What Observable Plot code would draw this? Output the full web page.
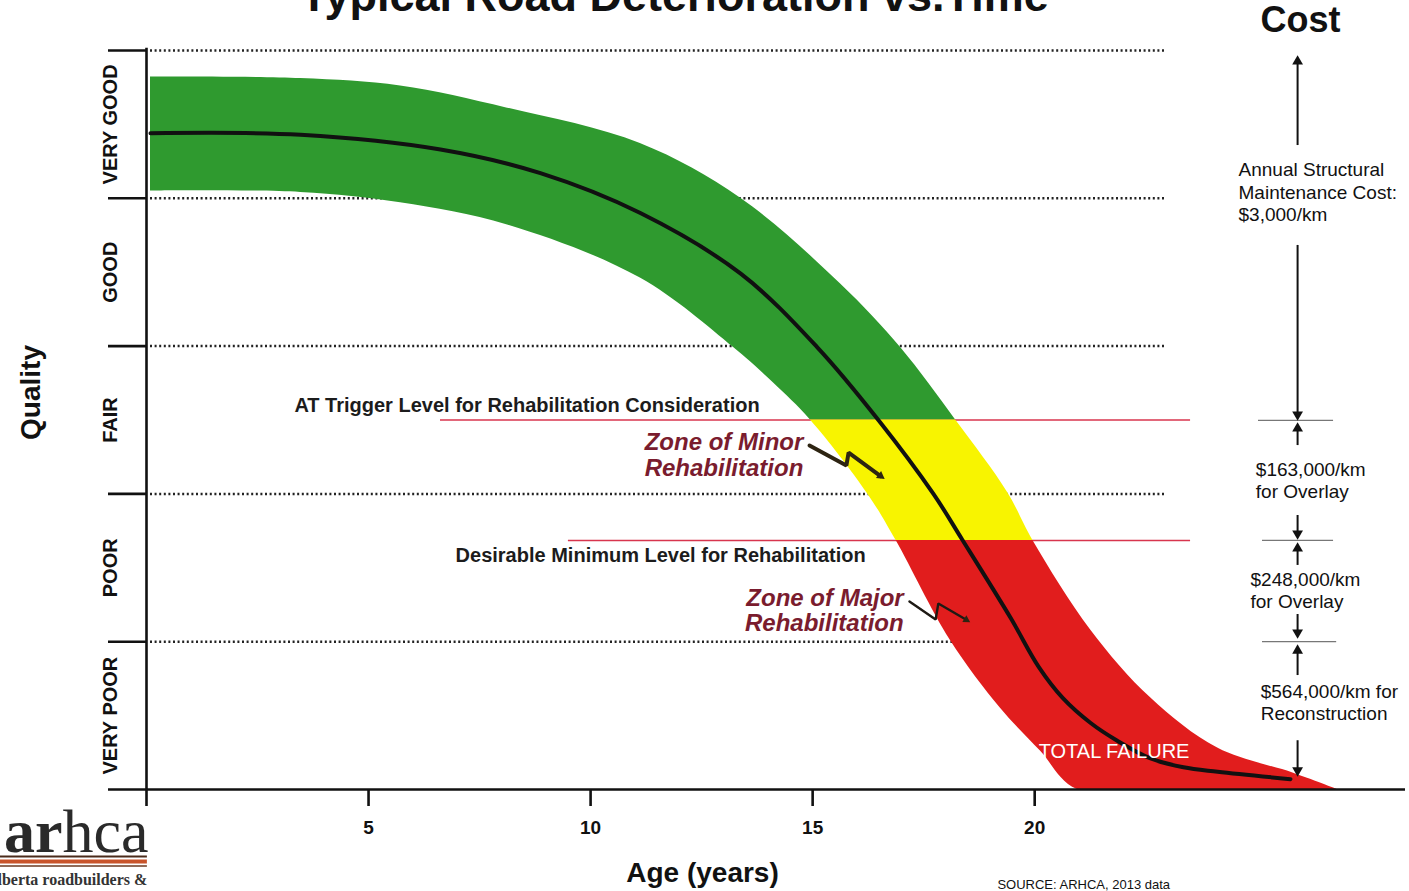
<!DOCTYPE html>
<html>
<head>
<meta charset="utf-8">
<script src="https://cdn.jsdelivr.net/npm/d3@7"></script>
<script src="https://cdn.jsdelivr.net/npm/@observablehq/plot@0.6"></script>
<style>
  html, body { margin: 0; padding: 0; background: #fff; overflow: hidden; }
  #chart svg { display: block; }
</style>
</head>
<body>
<div id="chart"></div>
<script>
// ---------- Data (age in years, quality in category units: 0 = bottom of VERY POOR, 5 = top of VERY GOOD)
const qualityLevels = ["VERY POOR", "POOR", "FAIR", "GOOD", "VERY GOOD"];
const qualityMid = [0.5, 1.5, 2.5, 3.5, 4.5];
const qualityBounds = [0, 1, 2, 3, 4, 5];
const xTicks = [0, 5, 10, 15, 20];

// performance band (upper and lower edges)
const bandUpperAge = [0.09, 3.47, 5.72, 8.13, 11.12, 13.38, 15.63, 16.98, 18.22, 19.39, 19.97, 21.26, 22.61, 24.12, 25.83, 26.82];
const bandUpperQ   = [4.82, 4.81, 4.76, 4.61, 4.37, 4.00, 3.42, 2.99, 2.50, 2.01, 1.68, 1.08, 0.62, 0.28, 0.11, 0.00];
const bandLowerAge = [0.09, 3.47, 5.72, 8.13, 11.12, 13.22, 14.12, 14.95, 16.24, 16.87, 18.10, 19.23, 20.13, 20.96, 23.73, 26.82];
const bandLowerQ   = [4.05, 4.04, 3.97, 3.82, 3.46, 2.99, 2.75, 2.50, 2.00, 1.69, 1.01, 0.55, 0.26, 0.00, 0.00, 0.00];

// typical deterioration curve
const centerAge = [0.09, 3.47, 6.62, 8.87, 11.12, 13.38, 15.11, 16.48, 17.72, 18.37, 19.46, 20.09, 20.63, 21.26, 21.86, 22.61, 23.35, 24.12, 25.76];
const centerQ   = [4.44, 4.43, 4.33, 4.17, 3.90, 3.49, 2.99, 2.50, 2.00, 1.69, 1.16, 0.83, 0.62, 0.45, 0.33, 0.21, 0.15, 0.12, 0.07];

// dotted category lines
const gridLevels = [1, 2, 3, 4, 5];
const gridEnd = [18.2, 22.95, 22.95, 22.95, 22.95];

// rehabilitation levels
const triggerLevel = 2.5;
const desirableLevel = 1.685;
const levelValues = [triggerLevel, desirableLevel];
const levelStart = [6.62, 9.50];
const levelEnd = [23.51, 23.51];
const levelLabels = ["AT Trigger Level for Rehabilitation Consideration", "Desirable Minimum Level for Rehabilitation"];
const levelLabelAge = [3.33, 6.96];
const levelLabelQ = [2.598, 1.583];

// zone labels and zig-zag pointers
const zoneLabels = ["Zone of Minor\nRehabilitation", "Zone of Major\nRehabilitation"];
const zoneLabelAge = [14.79, 17.05];
const zoneLabelQ = [2.264, 1.211];
const minorPointerAge = [14.93, 15.76, 15.81, 16.53];
const minorPointerQ = [2.327, 2.192, 2.280, 2.121];
const majorPointerAge = [17.18, 17.77, 17.83, 18.46];
const majorPointerQ = [1.272, 1.150, 1.258, 1.148];
const pointerHeadRotate = [126, 121];

// cost column
const costLabels = ["Annual Structural\nMaintenance Cost:\n$3,000/km", "$163,000/km\nfor Overlay", "$248,000/km\nfor Overlay", "$564,000/km for\nReconstruction"];
const costLabelAge = [24.59, 24.98, 24.86, 25.09];
const costLabelQ = [4.046, 2.094, 1.350, 0.595];
const costArrowAge = 25.92;
const costShaftFrom = [4.357, 3.681, 2.327, 1.854, 1.516, 1.184, 0.771, 0.330];
const costShaftTo   = [4.920, 2.537, 2.443, 1.732, 1.631, 1.062, 0.940, 0.129];
const costHeadQ     = [4.926, 2.537, 2.443, 1.732, 1.631, 1.062, 0.940, 0.129];
const costHeadRotate = [0, 180, 0, 180, 0, 180, 0, 180];
const costSepQ = [2.497, 1.685, 1.0];
const costSepStart = [25.04, 25.13, 25.13];
const costSepEnd = [26.73, 26.73, 26.80];
const costSepDash = ["none", "4,2", "4,2"];

// ---------- tables built from the arrays
const band = bandUpperAge.map((_, i) => ({x1: bandLowerAge[i], y1: bandLowerQ[i], x2: bandUpperAge[i], y2: bandUpperQ[i]}));
const center = centerAge.map((a, i) => ({age: a, q: centerQ[i]}));
const grid = gridLevels.map((q, i) => ({q, x2: gridEnd[i]}));
const levels = levelValues.map((q, i) => ({q, x1: levelStart[i], x2: levelEnd[i]}));
const levelText = levelLabels.map((t, i) => ({t, x: levelLabelAge[i], y: levelLabelQ[i]}));
const zoneText = zoneLabels.map((t, i) => ({t, x: zoneLabelAge[i], y: zoneLabelQ[i]}));
const minorPointer = minorPointerAge.map((a, i) => ({age: a, q: minorPointerQ[i]}));
const majorPointer = majorPointerAge.map((a, i) => ({age: a, q: majorPointerQ[i]}));
const pointerHeads = [
  {age: minorPointerAge[3], q: minorPointerQ[3], rot: pointerHeadRotate[0], r: 5},
  {age: majorPointerAge[3], q: majorPointerQ[3], rot: pointerHeadRotate[1], r: 4}
];
const costText = costLabels.map((t, i) => ({t, x: costLabelAge[i], y: costLabelQ[i]}));
const costShafts = costShaftFrom.map((f, i) => ({y1: f, y2: costShaftTo[i]}));
const costHeads = costHeadQ.map((q, i) => ({q, rot: costHeadRotate[i]}));
const costSeps = costSepQ.map((q, i) => ({q, x1: costSepStart[i], x2: costSepEnd[i], dash: costSepDash[i]}));

const sans = "Liberation Sans, Arial, Helvetica, sans-serif";
const serif = "Liberation Serif, Times New Roman, serif";

const plot = Plot.plot({
  width: 1409,
  height: 891,
  marginLeft: 146,
  marginRight: 4,
  marginTop: 50,
  marginBottom: 102,
  x: {domain: [0, 28.35]},
  y: {domain: [0, 5]},
  style: {fontFamily: sans, background: "white", color: "#111"},
  marks: [
    // dotted category lines
    Plot.ruleY(grid, {y: "q", x1: 0.09, x2: "x2", stroke: "#222", strokeWidth: 2.5, strokeDasharray: "2,2.6"}),
    // rehabilitation level lines
    Plot.ruleY(levels, {y: "q", x1: "x1", x2: "x2", stroke: "#d8354e", strokeWidth: 1.6}),
    // band in three colours
    Plot.area(band, {x1: "x1", y1: "y1", x2: "x2", y2: "y2", curve: "catmull-rom", fill: "#2f9a2f", className: "band-green"}),
    Plot.area(band, {x1: "x1", y1: "y1", x2: "x2", y2: "y2", curve: "catmull-rom", fill: "#f8f400", className: "band-yellow"}),
    Plot.area(band, {x1: "x1", y1: "y1", x2: "x2", y2: "y2", curve: "catmull-rom", fill: "#e11d1d", className: "band-red"}),
    // deterioration curve
    Plot.line(center, {x: "age", y: "q", curve: "catmull-rom", stroke: "#111", strokeWidth: 4}),
    // axes
    Plot.ruleY([0], {x1: 0, x2: 28.35, stroke: "#111", strokeWidth: 2.6}),
    Plot.ruleX([0], {y1: 0, y2: 5.015, stroke: "#111", strokeWidth: 2.6}),
    Plot.axisX(xTicks, {tickSize: 17, tickPadding: 14, tickFormat: d => d === 0 ? "" : String(d), fontSize: 19, fontWeight: "bold", strokeWidth: 2.6, color: "#111", label: null}),
    Plot.axisY(qualityBounds, {tickSize: 38, tickFormat: () => "", strokeWidth: 2.6, color: "#111", label: null}),
    Plot.text(qualityLevels, {x: -0.81, y: (d, i) => qualityMid[i], rotate: -90, fontSize: 20, fontWeight: "bold", fill: "#111"}),
    Plot.text(["Quality"], {x: -2.61, y: 2.686, rotate: -90, fontSize: 28, fontWeight: "bold", fill: "#111"}),
    Plot.text(["Age (years)"], {x: 12.52, y: -0.568, fontSize: 28, fontWeight: "bold", fill: "#111"}),
    Plot.text(["Typical Road Deterioration vs.Time"], {x: 11.89, y: 5.264, lineAnchor: "bottom", fontSize: 45, fontWeight: "bold", fill: "#111"}),
    // level labels
    Plot.text(levelText, {x: "x", y: "y", text: "t", textAnchor: "start", fontSize: 20, fontWeight: "bold", fill: "#1c1c1c"}),
    // zone labels
    Plot.text(zoneText, {x: "x", y: "y", text: "t", textAnchor: "end", lineHeight: 1.05, fontSize: 24, fontWeight: "bold", fontStyle: "italic", fill: "#7a1c2e"}),
    Plot.line(minorPointer, {x: "age", y: "q", stroke: "#2d2412", strokeWidth: 4, strokeLinejoin: "miter"}),
    Plot.line(majorPointer, {x: "age", y: "q", stroke: "#1e1a14", strokeWidth: 2.4, strokeLinejoin: "miter"}),
    Plot.dot(pointerHeads, {x: "age", y: "q", symbol: "triangle", rotate: "rot", r: "r", fill: "#2d2412", stroke: null}),
    // total failure
    Plot.text(["TOTAL FAILURE"], {x: 20.09, y: 0.257, textAnchor: "start", fontSize: 20, fill: "white"}),
    // cost column
    Plot.text(["Cost"], {x: 25.985, y: 5.203, fontSize: 36, fontWeight: "bold", fill: "#111"}),
    Plot.ruleY(costSeps, {y: "q", x1: "x1", x2: "x2", stroke: "#777", strokeWidth: 1.2, strokeDasharray: "dash"}),
    Plot.ruleX(costShafts, {x: costArrowAge, y1: "y1", y2: "y2", stroke: "#111", strokeWidth: 2}),
    Plot.dot(costHeads, {x: costArrowAge, y: "q", symbol: "triangle", rotate: "rot", r: 4, fill: "#111", stroke: null}),
    Plot.text(costText, {x: "x", y: "y", text: "t", textAnchor: "start", lineHeight: 1.18, fontSize: 19, fill: "#111"}),
    // source
    Plot.text(["SOURCE: ARHCA, 2013 data"], {x: 19.16, y: -0.643, textAnchor: "start", fontSize: 13, fill: "#111"}),
    // logo
    Plot.text(["ar"], {x: -1.89, y: -0.426, lineAnchor: "bottom", textAnchor: "end", fontFamily: serif, fontSize: 62, fontWeight: "bold", fill: "#2a2a2a"}),
    Plot.text(["hca"], {x: -1.89, y: -0.426, lineAnchor: "bottom", textAnchor: "start", fontFamily: serif, fontSize: 62, fill: "#2a2a2a"}),
    Plot.ruleY([-0.453], {x1: -3.29, x2: 0.02, stroke: "#4a2a1a", strokeWidth: 2}),
    Plot.ruleY([-0.487], {x1: -3.29, x2: 0.02, stroke: "#c9542b", strokeWidth: 4}),
    Plot.ruleY([-0.518], {x1: -3.29, x2: 0.02, stroke: "#6b3a22", strokeWidth: 1.5}),
    Plot.text(["alberta roadbuilders &"], {x: 0.02, y: -0.612, textAnchor: "end", fontFamily: serif, fontSize: 16, fontWeight: "bold", fill: "#333"}),
    Plot.text(["heavy construction association"], {x: 0.02, y: -0.775, lineAnchor: "bottom", textAnchor: "end", fontFamily: serif, fontSize: 16, fontWeight: "bold", fill: "#333"})
  ]
});

// colour zones of the band, clipped at the rehabilitation levels using the plot's own y scale
const ys = plot.scale("y");
const yTrig = ys.apply(triggerLevel), yDes = ys.apply(desirableLevel), yZero = ys.apply(0), yTop = ys.apply(5) - 60;
const svg = d3.select(plot);
const defs = svg.insert("defs", ":first-child");
function addClip(id, top, bottom) {
  defs.append("clipPath").attr("id", id).append("rect")
    .attr("x", 0).attr("y", top).attr("width", 1409).attr("height", bottom - top);
}
addClip("clip-green", yTop, yTrig);
addClip("clip-yellow", yTrig, yDes);
addClip("clip-red", yDes, yZero);
svg.select("g.band-green").attr("clip-path", "url(#clip-green)");
svg.select("g.band-yellow").attr("clip-path", "url(#clip-yellow)");
svg.select("g.band-red").attr("clip-path", "url(#clip-red)");

document.getElementById("chart").appendChild(plot);
</script>
</body>
</html>
